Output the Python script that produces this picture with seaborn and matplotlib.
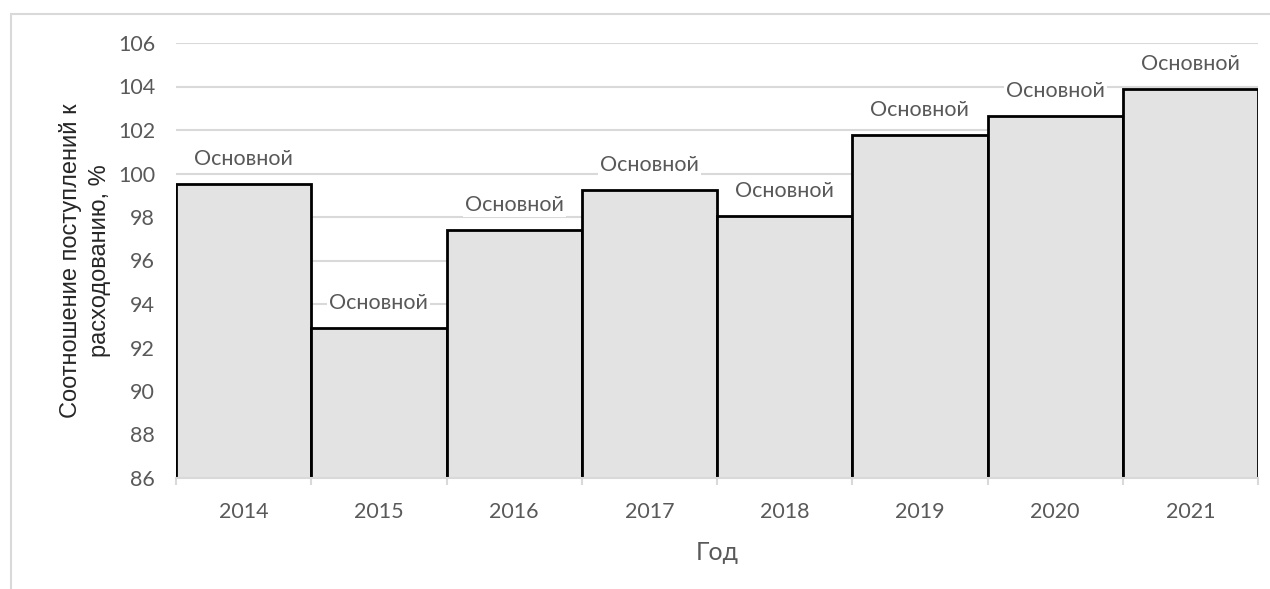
import matplotlib
matplotlib.use("Agg")
import matplotlib.pyplot as plt
import numpy as np
import pandas as pd
import seaborn as sns

# Data
years = ['2014', '2015', '2016', '2017', '2018', '2019', '2020', '2021']
ratio = [99.5, 92.9, 97.4, 99.25, 98.05, 101.75, 102.65, 103.9]
bar_labels = ['Основной'] * 8
yticks = [86, 88, 90, 92, 94, 96, 98, 100, 102, 104, 106]

sns.set_theme(style='white')
plt.rcParams['font.family'] = ['Lato', 'DejaVu Sans']

df = pd.DataFrame({'Год': years, 'ratio': ratio})

fig = plt.figure(figsize=(12.7, 5.89), dpi=100)
ax = fig.add_axes([176 / 1270, 1 - 478 / 589, (1258 - 176) / 1270, (478 - 43) / 589])

sns.barplot(data=df, x='Год', y='ratio', color='#e3e3e3', edgecolor='black',
            linewidth=2, width=1.0, saturation=1, ax=ax, zorder=2)

ax.set_ylim(86, 106)
ax.set_xlim(-0.5, len(years) - 0.5)
ax.set_yticks(yticks)
ax.yaxis.grid(True, color='#d9d9d9', linewidth=1.5, zorder=0)
ax.set_axisbelow(True)

for s in ['top', 'right', 'left']:
    ax.spines[s].set_visible(False)
ax.spines['bottom'].set_color('#d9d9d9')
ax.spines['bottom'].set_linewidth(1.5)

ax.set_xticks(np.arange(len(years)))
ax.set_xticklabels(years)
ax.set_xticks(np.arange(len(years) + 1) - 0.5, minor=True)
ax.tick_params(axis='x', which='major', length=0, pad=17, labelsize=15.5, labelcolor='#595959')
ax.tick_params(axis='x', which='minor', length=5, width=1.5, color='#d9d9d9', bottom=True)
ax.tick_params(axis='y', length=0, pad=15, labelsize=15.5, labelcolor='#595959')

for i, (v, lab) in enumerate(zip(ratio, bar_labels)):
    ax.annotate(lab, xy=(i, v), xytext=(0, 25), textcoords='offset pixels',
                ha='center', va='center', fontsize=15.5, color='#595959',
                bbox=dict(boxstyle='square,pad=0.1', fc='white', ec='none'), zorder=3)

ax.set_xlabel('Год', fontsize=18, color='#595959', labelpad=14)
ax.set_ylabel('Соотношение поступлений к\nрасходованию, %', fontsize=17, color='#262626',
              family=['Liberation Sans', 'DejaVu Sans'], labelpad=5, linespacing=1.4)

# chart frame
fig.add_artist(plt.Line2D([11 / 1270, 1], [1 - 14 / 589] * 2, transform=fig.transFigure,
                          color='#d9d9d9', linewidth=1.5))
fig.add_artist(plt.Line2D([11 / 1270] * 2, [0, 1 - 14 / 589], transform=fig.transFigure,
                          color='#d9d9d9', linewidth=1.5))

fig.savefig('out.png', dpi=100)
